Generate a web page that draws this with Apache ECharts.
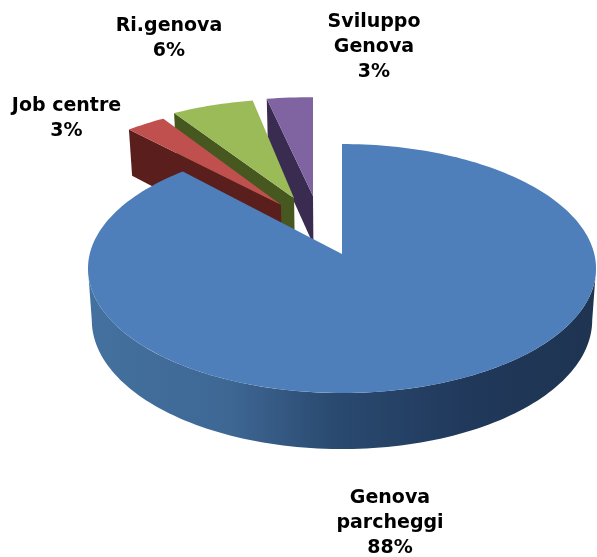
<!DOCTYPE html>
<html>
<head>
<meta charset="utf-8">
<style>html,body{margin:0;padding:0;background:#fff}#c{width:597px;height:557px}</style>
<script src="https://cdn.jsdelivr.net/npm/echarts@6/dist/echarts.min.js"></script>
</head>
<body>
<div id="c"></div>
<script>
// ---- data ----
const categories = ['Genova\nparcheggi', 'Job centre', 'Ri.genova', 'Sviluppo\nGenova'];
const values = [88, 3, 6, 3];

// ---- style ----
const faceColors = ['#4E7FBA', '#C0504D', '#9BBB59', '#8064A2'];
const wallColors = ['#2B4A6F', '#5A1F1D', '#46581F', '#3A2C50'];
const explodeX = [0, -0.242, -0.19, -0.115];
const explodeY = [0, 0.42, 0.48, 0.5];
const widthScale = [1, 0.955, 0.975, 1.09];
const stacking = [10, 6, 4, 2];
const labelX = [390, 66.5, 169, 374];
const labelY = [523, 119, 39, 47];

const cx = 342, cy = 254, B = 252.3, A = 122.8, k = 0.1165;
const total = values.reduce((a, b) => a + b, 0);

function topPoint(u, v, du, dv) {
  const vt = v + dv;
  return [cx + B * u / (1 + k * v) + B * du, cy - A * vt / (1 + k * vt)];
}
function lowPoint(u, v, du, dv) {
  const p = topPoint(u, v, du, dv), vt = v + dv;
  return [cx + (p[0] - cx) * 0.985, p[1] + 51 / (1 + 0.09 * vt)];
}
function arcPoints(fn, a0, a1, du, dv, sx) {
  const n = Math.max(4, Math.ceil((a1 - a0) * 40)), pts = [];
  for (let i = 0; i <= n; i++) {
    const a = a0 + (a1 - a0) * i / n;
    pts.push(fn(Math.sin(a) * sx, Math.cos(a), du, dv));
  }
  return pts;
}

function renderItem(params, api) {
  const i = params.dataIndex;
  let before = 0;
  for (let j = 0; j < i; j++) before += values[j];
  const a0 = before / total * 2 * Math.PI;
  const a1 = (before + api.value(0)) / total * 2 * Math.PI;
  const du = explodeX[i], dv = explodeY[i], sx = widthScale[i], z = stacking[i];
  const children = [];

  if (i === 0) {
    const s = Math.acos(-k);
    const upper = arcPoints(topPoint, s, 2 * Math.PI - s, du, dv, sx);
    const lower = arcPoints(lowPoint, s, 2 * Math.PI - s, du, dv, sx).reverse();
    children.push({
      type: 'polygon', z2: z, shape: { points: upper.concat(lower) },
      style: { fill: { type: 'linear', x: 0, y: 0, x2: 1, y2: 0, colorStops: [
        { offset: 0, color: '#44719F' }, { offset: 0.28, color: '#3E6794' },
        { offset: 0.48, color: '#2A4A70' }, { offset: 0.76, color: '#20385A' },
        { offset: 1, color: '#1E3451' }
      ] } }
    });
  } else {
    const su = Math.sin(a0) * sx, cv = Math.cos(a0);
    const o = topPoint(0, 0, du, dv), e = topPoint(su, cv, du, dv);
    const ol = lowPoint(0, 0, du, dv), el = lowPoint(su, cv, du, dv);
    children.push({
      type: 'polygon', z2: z, shape: { points: [o, e, el, ol] },
      style: { fill: wallColors[i] }
    });
  }
  const face = [topPoint(0, 0, du, dv)].concat(arcPoints(topPoint, a0, a1, du, dv, sx));
  children.push({
    type: 'polygon', z2: z + 1, shape: { points: face },
    style: { fill: faceColors[i] }
  });
  children.push({
    type: 'text', z2: 20,
    style: {
      x: labelX[i], y: labelY[i],
      text: categories[i] + '\n' + api.value(0) + '%',
      fill: '#000', align: 'center', verticalAlign: 'middle',
      font: 'bold 19px "DejaVu Sans"', lineHeight: 25
    }
  });
  return { type: 'group', children };
}

const chart = echarts.init(document.getElementById('c'), null, { renderer: 'canvas' });
chart.setOption({
  animation: false,
  backgroundColor: '#fff',
  series: [{
    type: 'custom',
    coordinateSystem: 'none',
    renderItem,
    clip: false,
    data: values.map((v, i) => ({ name: categories[i], value: v }))
  }]
});
</script>
</body>
</html>
